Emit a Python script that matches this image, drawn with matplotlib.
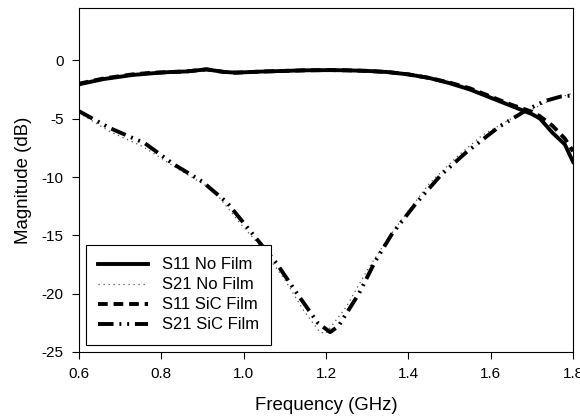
import matplotlib
matplotlib.use("Agg")
import matplotlib.pyplot as plt

plt.rcParams['font.family'] = ['Liberation Sans', 'DejaVu Sans']
plt.rcParams['axes.unicode_minus'] = False

# S11 lines (near 0 dB)
f_s11 = [0.60, 0.66, 0.73, 0.78, 0.82, 0.86, 0.91, 0.95, 0.98, 1.05, 1.10,
         1.15, 1.21, 1.25, 1.30, 1.35, 1.40, 1.45, 1.50, 1.55, 1.60, 1.65, 1.70,
         1.72, 1.75, 1.78, 1.80]
s11_no_film = [-2.05, -1.6, -1.25, -1.1, -1.0, -0.95, -0.77, -0.98, -1.05, -0.95, -0.9,
               -0.85, -0.83, -0.85, -0.9, -1.0, -1.2, -1.5, -1.95, -2.5, -3.2, -3.9, -4.6,
               -5.0, -6.2, -7.2, -8.7]
s11_sic_film = [-2.0, -1.55, -1.2, -1.05, -1.0, -0.95, -0.77, -0.98, -1.05, -0.95, -0.9,
                -0.85, -0.83, -0.85, -0.9, -1.0, -1.2, -1.5, -1.9, -2.4, -3.1, -3.8, -4.4,
                -4.8, -5.6, -6.7, -7.8]

# S21 No Film (dotted)
f_s21_nf = [0.60, 0.675, 0.756, 0.845, 0.926, 0.99, 1.04, 1.10, 1.145, 1.185,
            1.20, 1.25, 1.30, 1.35, 1.40, 1.45, 1.52, 1.58, 1.65, 1.70, 1.74, 1.80]
s21_no_film = [-4.5, -6.1, -7.4, -9.4, -11.1, -13.9, -15.9, -18.8, -21.4, -23.3,
               -23.4, -21.1, -18.0, -15.3, -12.9, -10.6, -8.2, -6.4, -5.0, -4.2, -3.5, -2.8]

# S21 SiC Film (dash-dot-dot)
f_s21_sic = [0.60, 0.675, 0.76, 0.83, 0.90, 0.96, 1.02, 1.08, 1.13, 1.18,
             1.21, 1.23, 1.28, 1.32, 1.36, 1.42, 1.48, 1.54, 1.62, 1.69, 1.73, 1.77, 1.80]
s21_sic_film = [-4.35, -5.8, -7.1, -8.9, -10.4, -12.2, -14.8, -17.4, -20.0, -22.5,
                -23.3, -22.8, -20.0, -17.2, -14.9, -12.2, -9.8, -7.9, -5.7, -4.2, -3.5, -3.1, -3.0]

fig = plt.figure(figsize=(5.8, 4.17), dpi=100)
ax = fig.add_axes([0.136, 0.156, 0.852, 0.825])

ax.plot(f_s11, s11_no_film, color='black', lw=2.8, ls='-', label='S11 No Film')
ax.plot(f_s21_nf, s21_no_film, color='#555555', lw=0.9, ls=(0, (1, 3)), label='S21 No Film')
ax.plot(f_s11, s11_sic_film, color='black', lw=2.8, ls=(0, (2.5, 1.5)), label='S11 SiC Film')
ax.plot(f_s21_sic, s21_sic_film, color='black', lw=2.8,
        ls=(0, (4, 1.5, 0.5, 1.5, 0.5, 1.5)), label='S21 SiC Film')

ax.set_xlim(0.6, 1.8)
ax.set_ylim(-25, 4.5)
ax.set_xticks([0.6, 0.8, 1.0, 1.2, 1.4, 1.6, 1.8])
ax.set_yticks([0, -5, -10, -15, -20, -25])
ax.tick_params(direction='out', length=5, width=0.8, labelsize=11)
ax.tick_params(axis='x', pad=6)
ax.tick_params(axis='y', pad=6)
for sp in ax.spines.values():
    sp.set_linewidth(0.8)

ax.set_xlabel('Frequency (GHz)', fontsize=13.4, labelpad=11)
ax.set_ylabel('Magnitude (dB)', fontsize=13.4, labelpad=7)

leg = ax.legend(loc='lower left', fontsize=12, fancybox=False, edgecolor='black',
                framealpha=1, handlelength=3.0, borderaxespad=0.42, labelspacing=0.3,
                handletextpad=0.8, borderpad=0.75)
leg.get_frame().set_linewidth(0.8)

fig.savefig('out.png', dpi=100)
